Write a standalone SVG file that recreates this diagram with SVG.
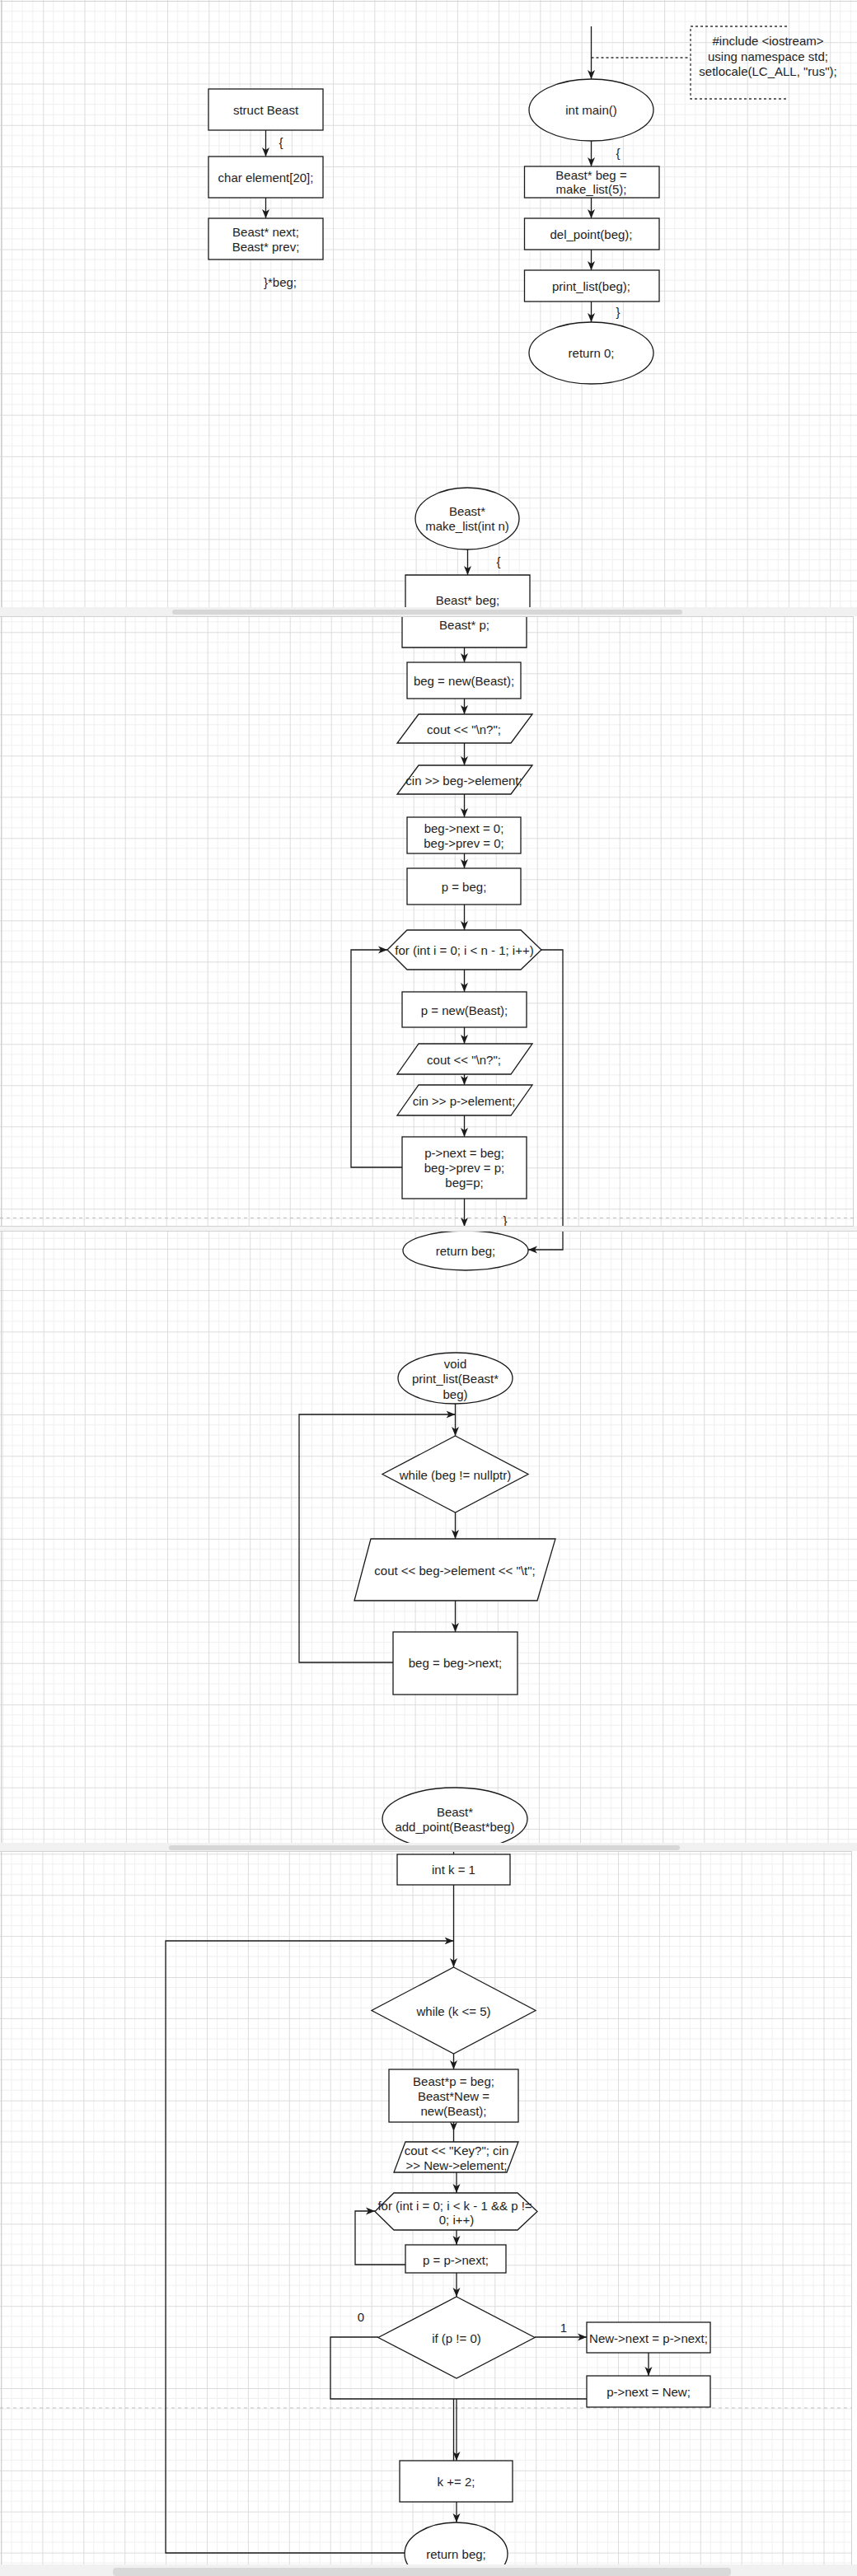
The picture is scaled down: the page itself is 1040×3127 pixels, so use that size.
<svg xmlns="http://www.w3.org/2000/svg" width="1040" height="3127" viewBox="0 0 1040 3127">
<style>
.n{fill:#fff;stroke:#1a1a1a;stroke-width:1.3}
.t{font-family:"Liberation Sans",Arial,sans-serif;font-size:15px;fill:#1e1e1e;text-anchor:middle;dominant-baseline:central}
.c{fill:none;stroke:#1a1a1a;stroke-width:1.3}
.a{marker-end:url(#arr)}
.d{fill:none;stroke:#333;stroke-width:1.3;stroke-dasharray:3 3}
.pb{fill:none;stroke:#bdbdbd;stroke-width:1;stroke-dasharray:4 4}
.mi{fill:none;stroke:#f0f0f0;stroke-width:1}
.ma{fill:none;stroke:#dcdcdc;stroke-width:1}
.bd{fill:none;stroke:#d2d2d2;stroke-width:1}
</style>
<defs>
<marker id="arr" viewBox="0 0 11 10" refX="11" refY="5" markerWidth="11" markerHeight="10" markerUnits="userSpaceOnUse" orient="auto">
<path d="M0,0.5 L11,5 L0,9.5 L3,5 Z" fill="#1a1a1a"/>
</marker>
<pattern id="gA" patternUnits="userSpaceOnUse" x="2" y="1" width="50.26" height="50.26">
<path class="mi" d="M12.57 0V50.26M25.13 0V50.26M37.7 0V50.26M0 12.57H50.26M0 25.13H50.26M0 37.7H50.26"/>
<path class="ma" d="M0.5 0V50.26M0 0.5H50.26"/>
</pattern>
<pattern id="gB" patternUnits="userSpaceOnUse" x="1.7" y="17.3" width="50" height="50">
<path class="mi" d="M12.5 0V50M25 0V50M37.5 0V50M0 12.5H50M0 25H50M0 37.5H50"/>
<path class="ma" d="M0.5 0V50M0 0.5H50"/>
</pattern>
<pattern id="gC" patternUnits="userSpaceOnUse" x="2.6" y="6.8" width="50.1" height="50.3">
<path class="mi" d="M12.53 0V50.3M25.05 0V50.3M37.58 0V50.3M0 12.58H50.1M0 25.15H50.1M0 37.73H50.1"/>
<path class="ma" d="M0.5 0V50.3M0 0.5H50.1"/>
</pattern>
<pattern id="gD" patternUnits="userSpaceOnUse" x="1.5" y="4.8" width="49.9" height="49.9">
<path class="mi" d="M12.48 0V49.9M24.95 0V49.9M37.43 0V49.9M0 12.48H49.9M0 24.95H49.9M0 37.43H49.9"/>
<path class="ma" d="M0.5 0V49.9M0 0.5H49.9"/>
</pattern>
</defs>

<g id="background">
<rect x="0" y="0" width="1040" height="3127" fill="#fff"/>
<rect x="0" y="0" width="1040" height="737" fill="url(#gA)"/>
<rect x="0" y="748" width="1036" height="740" fill="url(#gB)"/>
<rect x="0" y="1495" width="1040" height="742" fill="url(#gC)"/>
<rect x="0" y="2247" width="1034" height="866" fill="url(#gD)"/>
<path class="bd" d="M0 1.5H1040M1.5 0V737M1.5 748V1488M1035.5 748V1488M1.5 1495V2237M1.5 2247V3113M1033.5 2247V3113"/>
<path class="pb" d="M0 1478.5H1036M0 2923H1034"/>
</g>

<g id="connectors">
<path class="c a" d="M322.5 158V190"/>
<path class="c a" d="M322.5 240V265"/>
<path class="c a" d="M717.5 32V96"/>
<path class="d" d="M717.5 70H838"/>
<path class="c a" d="M717.5 171V202"/>
<path class="c a" d="M717.5 240V265"/>
<path class="c a" d="M717.5 303V328"/>
<path class="c a" d="M717.5 366V391"/>
<path class="c a" d="M567.5 667V698"/>
<path class="c a" d="M563.5 786V804"/>
<path class="c a" d="M563.5 848V867"/>
<path class="c a" d="M563.5 902V929"/>
<path class="c a" d="M563.5 964V992"/>
<path class="c a" d="M563.5 1036V1054"/>
<path class="c a" d="M563.5 1098V1129"/>
<path class="c a" d="M563.5 1177V1204"/>
<path class="c a" d="M563.5 1247V1267"/>
<path class="c a" d="M563.5 1304V1317"/>
<path class="c a" d="M563.5 1354V1380"/>
<path class="c a" d="M563.5 1455V1489"/>
<path class="c a" d="M488 1417H426V1153H470"/>
<path class="c a" d="M657 1153H683V1517H641"/>
<path class="c a" d="M552.5 1704V1743"/>
<path class="c a" d="M477 2018H363V1717H552.5"/>
<path class="c a" d="M552.5 1836V1868"/>
<path class="c a" d="M552.5 1943V1981"/>
<path class="c" d="M550.5 2246V2251"/>
<path class="c a" d="M550.5 2288V2388"/>
<path class="c a" d="M550.5 2493V2512"/>
<path class="c a" d="M550.5 2576V2587"/>
<path class="c" d="M550.5 2587V2600"/>
<path class="c a" d="M554 2637V2662"/>
<path class="c a" d="M554 2707V2725"/>
<path class="c a" d="M492 2749H431V2684H455"/>
<path class="c a" d="M554 2759V2788"/>
<path class="c a" d="M649 2837H712"/>
<path class="c a" d="M787 2856V2884"/>
<path class="c" d="M459 2837H401V2912H712"/>
<path class="c" d="M550.5 2912V2987"/>
<path class="c a" d="M554 2912V2987"/>
<path class="c a" d="M554 3037V3062"/>
<path class="c a" d="M491 3099H201V2356H550.5"/>
</g>

<g id="struct_beast">
<rect class="n" x="253" y="108" width="139" height="50"/>
<text class="t" x="322.5" y="133">struct Beast</text>
<text class="t" x="341" y="172">{</text>
</g>
<g id="struct_element">
<rect class="n" x="253" y="190" width="139" height="50"/>
<text class="t" x="322.5" y="215">char element[20];</text>
</g>
<g id="struct_links">
<rect class="n" x="253" y="265" width="139" height="50"/>
<text class="t" x="322.5" y="281">Beast* next;</text>
<text class="t" x="322.5" y="299">Beast* prev;</text>
<text class="t" x="340" y="342">}*beg;</text>
</g>

<g id="include_note">
<path class="d" d="M955 32H838V120H955"/>
<text class="t" x="932" y="49">#include &lt;iostream&gt;</text>
<text class="t" x="932" y="68">using namespace std;</text>
<text class="t" x="932" y="86">setlocale(LC_ALL, "rus");</text>
</g>
<g id="main_start">
<ellipse class="n" cx="717.5" cy="133.5" rx="75.5" ry="37.5"/>
<text class="t" x="717.5" y="133.5">int main()</text>
<text class="t" x="750" y="185">{</text>
</g>
<g id="main_make">
<rect class="n" x="636.5" y="202" width="163.5" height="38"/>
<text class="t" x="717.5" y="212">Beast* beg =</text>
<text class="t" x="717.5" y="229">make_list(5);</text>
</g>
<g id="main_del">
<rect class="n" x="636.5" y="265" width="163.5" height="38"/>
<text class="t" x="717.5" y="284">del_point(beg);</text>
</g>
<g id="main_print">
<rect class="n" x="636.5" y="328" width="163.5" height="38"/>
<text class="t" x="717.5" y="347">print_list(beg);</text>
<text class="t" x="750" y="378">}</text>
</g>
<g id="main_return">
<ellipse class="n" cx="717.5" cy="428.5" rx="75.5" ry="37.5"/>
<text class="t" x="717.5" y="428.5">return 0;</text>
</g>

<g id="ml_start">
<ellipse class="n" cx="567" cy="629.5" rx="63" ry="37.5"/>
<text class="t" x="567" y="620">Beast*</text>
<text class="t" x="567" y="638">make_list(int n)</text>
<text class="t" x="605" y="681">{</text>
</g>
<g id="ml_decl">
<path class="n" d="M492 745V698H643V745"/>
<text class="t" x="567.5" y="728">Beast* beg;</text>
<path class="n" d="M488 742V786H639V742"/>
<text class="t" x="563.5" y="758">Beast* p;</text>
</g>
<g id="ml_new">
<rect class="n" x="494" y="804" width="138" height="44"/>
<text class="t" x="563" y="826">beg = new(Beast);</text>
</g>
<g id="ml_cout1">
<path class="n" d="M508 867H646L620 902H482Z"/>
<text class="t" x="563" y="885">cout &lt;&lt; "\n?";</text>
</g>
<g id="ml_cin1">
<path class="n" d="M508 929H646L620 964H482Z"/>
<text class="t" x="563" y="947">cin &gt;&gt; beg-&gt;element;</text>
</g>
<g id="ml_init">
<rect class="n" x="494" y="992" width="138" height="44"/>
<text class="t" x="563" y="1005">beg-&gt;next = 0;</text>
<text class="t" x="563" y="1023">beg-&gt;prev = 0;</text>
</g>
<g id="ml_p">
<rect class="n" x="494" y="1054" width="138" height="44"/>
<text class="t" x="563" y="1076">p = beg;</text>
</g>
<g id="ml_for">
<path class="n" d="M470 1153L494 1129H632L657 1153L632 1177H494Z"/>
<text class="t" x="563.5" y="1153">for (int i = 0; i &lt; n - 1; i++)</text>
</g>
<g id="ml_pnew">
<rect class="n" x="488" y="1204" width="151" height="43"/>
<text class="t" x="563.5" y="1226">p = new(Beast);</text>
</g>
<g id="ml_cout2">
<path class="n" d="M508 1267H646L620 1304H482Z"/>
<text class="t" x="563" y="1286">cout &lt;&lt; "\n?";</text>
</g>
<g id="ml_cin2">
<path class="n" d="M508 1317H646L620 1354H482Z"/>
<text class="t" x="563" y="1336">cin &gt;&gt; p-&gt;element;</text>
</g>
<g id="ml_link">
<rect class="n" x="488" y="1380" width="151" height="75"/>
<text class="t" x="563.5" y="1399">p-&gt;next = beg;</text>
<text class="t" x="563.5" y="1417">beg-&gt;prev = p;</text>
<text class="t" x="563.5" y="1435">beg=p;</text>
<text class="t" x="613" y="1481">}</text>
</g>
<g id="ml_return">
<ellipse class="n" cx="565" cy="1518" rx="76" ry="24"/>
<text class="t" x="565" y="1518">return beg;</text>
</g>

<g id="pl_start">
<ellipse class="n" cx="552.5" cy="1673" rx="69.5" ry="31"/>
<text class="t" x="552.5" y="1655">void</text>
<text class="t" x="552.5" y="1673">print_list(Beast*</text>
<text class="t" x="552.5" y="1692">beg)</text>
</g>
<g id="pl_while">
<path class="n" d="M552.5 1743L641 1789.5L552.5 1836L464 1789.5Z"/>
<text class="t" x="552.5" y="1790">while (beg != nullptr)</text>
</g>
<g id="pl_cout">
<path class="n" d="M450 1868H674L652 1943H430Z"/>
<text class="t" x="552" y="1906">cout &lt;&lt; beg-&gt;element &lt;&lt; "\t";</text>
</g>
<g id="pl_next">
<rect class="n" x="477" y="1981" width="151" height="76"/>
<text class="t" x="552.5" y="2018">beg = beg-&gt;next;</text>
</g>

<g id="ap_start">
<ellipse class="n" cx="552" cy="2208" rx="88" ry="38"/>
<text class="t" x="552" y="2199">Beast*</text>
<text class="t" x="552" y="2217">add_point(Beast*beg)</text>
</g>
<g id="ap_k">
<rect class="n" x="482" y="2251" width="137" height="37"/>
<text class="t" x="550.5" y="2269">int k = 1</text>
</g>
<g id="ap_while">
<path class="n" d="M550.5 2388L650 2440.5L550.5 2493L451 2440.5Z"/>
<text class="t" x="550.5" y="2441">while (k &lt;= 5)</text>
</g>
<g id="ap_decl">
<rect class="n" x="472" y="2512" width="157" height="64"/>
<text class="t" x="550.5" y="2526">Beast*p = beg;</text>
<text class="t" x="550.5" y="2544">Beast*New =</text>
<text class="t" x="550.5" y="2562">new(Beast);</text>
</g>
<g id="ap_io">
<path class="n" d="M492 2600H629L615 2637H478Z"/>
<text class="t" x="554" y="2610">cout &lt;&lt; "Key?"; cin</text>
<text class="t" x="554" y="2628">&gt;&gt; New-&gt;element;</text>
</g>
<g id="ap_for">
<path class="n" d="M455 2684.5L478 2662H628L652 2684.5L628 2707H478Z"/>
<text class="t" x="552" y="2677">for (int i = 0; i &lt; k - 1 &amp;&amp; p !=</text>
<text class="t" x="554" y="2694">0; i++)</text>
</g>
<g id="ap_step">
<rect class="n" x="492" y="2725" width="122" height="34"/>
<text class="t" x="553" y="2743">p = p-&gt;next;</text>
</g>
<g id="ap_if">
<path class="n" d="M554 2788L649 2837.5L554 2887L459 2837.5Z"/>
<text class="t" x="554" y="2838">if (p != 0)</text>
<text class="t" x="438" y="2812">0</text>
<text class="t" x="684" y="2825">1</text>
</g>
<g id="ap_newnext">
<rect class="n" x="712" y="2819" width="150" height="37"/>
<text class="t" x="787" y="2838">New-&gt;next = p-&gt;next;</text>
</g>
<g id="ap_pnext">
<rect class="n" x="712" y="2884" width="150" height="38"/>
<text class="t" x="787" y="2903">p-&gt;next = New;</text>
</g>
<g id="ap_inc">
<rect class="n" x="485" y="2987" width="137" height="50"/>
<text class="t" x="553.5" y="3012">k += 2;</text>
</g>
<g id="ap_return">
<ellipse class="n" cx="553.5" cy="3100" rx="62.5" ry="38"/>
<text class="t" x="553.5" y="3100">return beg;</text>
</g>

<g id="seams">
<rect x="0" y="737" width="1040" height="11" fill="#f1f1f1"/>
<rect x="209" y="740" width="619" height="6" rx="3" fill="#d7d7d7"/>
<path class="bd" d="M0 748.5H1036"/>
<rect x="0" y="1488" width="1040" height="7" fill="#f4f4f4"/>
<path class="bd" d="M0 1488.5H1036M0 1494.5H1040"/>
<rect x="0" y="2237" width="1040" height="10" fill="#f1f1f1"/>
<rect x="205" y="2240" width="620" height="6" rx="3" fill="#d7d7d7"/>
<path class="bd" d="M0 2247.5H1034"/>
<rect x="0" y="3113" width="1040" height="14" fill="#f1f1f1"/>
<rect x="137" y="3117" width="750" height="10" rx="4" fill="#d9d9d9"/>
</g>
</svg>
